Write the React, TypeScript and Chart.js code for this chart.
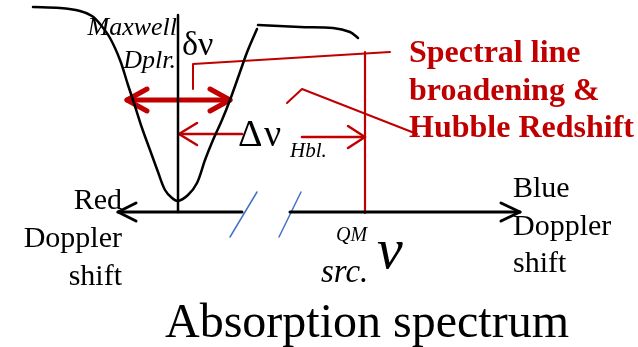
import React, { useEffect, useRef } from "react";
import { Chart, registerables } from "chart.js";

Chart.register(...registerables);

const W = 638;
const H = 347;

// Absorption line profile (black curve)
const profileX = [33, 60, 80, 92, 100, 110, 120, 128, 134, 142, 150, 158, 165, 172, 178, 188, 197, 205, 213, 222, 230, 240, 246, 250, 257];
const profileY = [7, 8, 11, 16, 24, 38, 60, 85, 103, 128, 150, 172, 190, 198, 201, 195, 183, 160, 140, 120, 100, 72, 55, 45, 29];
const continuumX = [258, 300, 333, 350, 358];
const continuumY = [25, 27, 28, 32, 38];

// Frequency axis (broken) and centre line
const axisLeftX = [118, 242];
const axisLeftY = [212, 212];
const axisRightX = [290, 520];
const axisRightY = [212, 212];
const headLeftX = [136, 118, 136];
const headLeftY = [203, 212, 221];
const headRightX = [501, 520, 501];
const headRightY = [203, 212, 221];
const centreX = [178, 178];
const centreY = [15, 212];

// Axis break marks
const break1X = [230, 257];
const break1Y = [237, 192];
const break2X = [279, 301];
const break2Y = [237, 192];

// Doppler width arrow (thick red)
const dopplerShaftX = [127, 230];
const dopplerShaftY = [100, 100];
const dopplerHeadLX = [147, 127, 147];
const dopplerHeadLY = [89, 100, 111];
const dopplerHeadRX = [210, 230, 210];
const dopplerHeadRY = [89, 100, 111];

// Thin red lines
const leader1X = [193, 193, 390];
const leader1Y = [89, 64, 52];
const leader2X = [287, 302, 417];
const leader2Y = [103, 89, 134];
const sourceLineX = [365, 365];
const sourceLineY = [52, 213];
const hblShaftLX = [242, 179];
const hblShaftLY = [134, 134];
const hblHeadLX = [197, 179, 197];
const hblHeadLY = [123, 134, 145];
const hblShaftRX = [302, 365];
const hblShaftRY = [137, 137];
const hblHeadRX = [348, 365, 348];
const hblHeadRY = [126, 137, 148];

// Text labels and their anchor points
const labelTexts = [
  "Maxwell", "Dplr.", "δν", "Δ", "ν", "Hbl.", "QM", "ν", "src.",
  "Red", "Doppler", "shift", "Blue", "Doppler", "shift",
  "Spectral line", "broadening &", "Hubble Redshift", "Absorption spectrum",
];
const labelX = [177, 176, 182, 238, 264, 290, 336, 377, 321, 122, 122, 122, 513, 513, 513, 409, 409, 409, 367];
const labelY = [35, 68, 55, 146, 146, 157, 241, 268, 282, 209, 247, 285, 197, 235, 272, 62, 100, 137, 337];

const BLACK = "#000000";
const RED = "#C00000";
const BLUE = "#4472C4";
const SERIF = "'Liberation Serif', 'Times New Roman', serif";

const labelStyles = [
  { font: `italic 26px ${SERIF}`, align: "right", color: BLACK },
  { font: `italic 26px ${SERIF}`, align: "right", color: BLACK },
  { font: `34px ${SERIF}`, align: "left", color: BLACK },
  { font: `38px ${SERIF}`, align: "left", color: BLACK },
  { font: `38px ${SERIF}`, align: "left", color: BLACK },
  { font: `italic 21px ${SERIF}`, align: "left", color: BLACK },
  { font: `italic 20px ${SERIF}`, align: "left", color: BLACK },
  { font: `italic 58px ${SERIF}`, align: "left", color: BLACK },
  { font: `italic 33px ${SERIF}`, align: "left", color: BLACK },
  { font: `30px ${SERIF}`, align: "right", color: BLACK },
  { font: `30px ${SERIF}`, align: "right", color: BLACK },
  { font: `30px ${SERIF}`, align: "right", color: BLACK },
  { font: `30px ${SERIF}`, align: "left", color: BLACK },
  { font: `30px ${SERIF}`, align: "left", color: BLACK },
  { font: `30px ${SERIF}`, align: "left", color: BLACK },
  { font: `bold 32px ${SERIF}`, align: "left", color: RED },
  { font: `bold 32px ${SERIF}`, align: "left", color: RED },
  { font: `bold 32px ${SERIF}`, align: "left", color: RED },
  { font: `48px ${SERIF}`, align: "center", color: BLACK },
];

function pts(xs: number[], ys: number[]) {
  return xs.map((x, i) => ({ x, y: ys[i] }));
}

function ds(xs: number[], ys: number[], color: string, width: number, tension = 0) {
  return {
    data: pts(xs, ys),
    showLine: true,
    borderColor: color,
    backgroundColor: color,
    borderWidth: width,
    pointRadius: 0,
    pointHoverRadius: 0,
    fill: false,
    tension,
    borderCapStyle: "round",
    borderJoinStyle: "round",
  };
}

const labelPlugin = {
  id: "diagramLabels",
  afterDatasetsDraw(chart: any) {
    const ctx = chart.ctx;
    const sx = chart.scales.x;
    const sy = chart.scales.y;
    ctx.save();
    labelTexts.forEach((t, i) => {
      const st = labelStyles[i];
      ctx.font = st.font;
      ctx.fillStyle = st.color;
      ctx.textAlign = st.align;
      ctx.textBaseline = "alphabetic";
      ctx.fillText(t, sx.getPixelForValue(labelX[i]), sy.getPixelForValue(labelY[i]));
    });
    ctx.restore();
  },
};

export default function App() {
  const ref = useRef<HTMLCanvasElement | null>(null);

  useEffect(() => {
    if (!ref.current) return;
    const chart = new Chart(ref.current, {
      type: "scatter",
      data: {
        datasets: [
          ds(profileX, profileY, BLACK, 2.5, 0.35),
          ds(continuumX, continuumY, BLACK, 2.5, 0.35),
          ds(centreX, centreY, BLACK, 2.5),
          ds(axisLeftX, axisLeftY, BLACK, 3),
          ds(axisRightX, axisRightY, BLACK, 3),
          ds(headLeftX, headLeftY, BLACK, 3),
          ds(headRightX, headRightY, BLACK, 3),
          ds(break1X, break1Y, BLUE, 1.5),
          ds(break2X, break2Y, BLUE, 1.5),
          ds(leader1X, leader1Y, RED, 2),
          ds(leader2X, leader2Y, RED, 2),
          ds(sourceLineX, sourceLineY, RED, 2.2),
          ds(hblShaftLX, hblShaftLY, RED, 2.5),
          ds(hblHeadLX, hblHeadLY, RED, 2.5),
          ds(hblShaftRX, hblShaftRY, RED, 2.5),
          ds(hblHeadRX, hblHeadRY, RED, 2.5),
          ds(dopplerShaftX, dopplerShaftY, RED, 5),
          ds(dopplerHeadLX, dopplerHeadLY, RED, 5),
          ds(dopplerHeadRX, dopplerHeadRY, RED, 5),
        ] as any,
      },
      options: {
        responsive: false,
        animation: false,
        devicePixelRatio: 1,
        layout: { padding: 0 },
        events: [],
        plugins: {
          legend: { display: false },
          tooltip: { enabled: false },
          title: { display: false },
        },
        scales: {
          x: { type: "linear", min: 0, max: W, display: false },
          y: { type: "linear", min: 0, max: H, reverse: true, display: false },
        },
      } as any,
      plugins: [labelPlugin as any],
    });
    return () => chart.destroy();
  }, []);

  return (
    <div style={{ position: "absolute", left: 0, top: 0, width: W, height: H, background: "#fff" }}>
      <canvas ref={ref} width={W} height={H} style={{ display: "block", width: W, height: H }} />
    </div>
  );
}
